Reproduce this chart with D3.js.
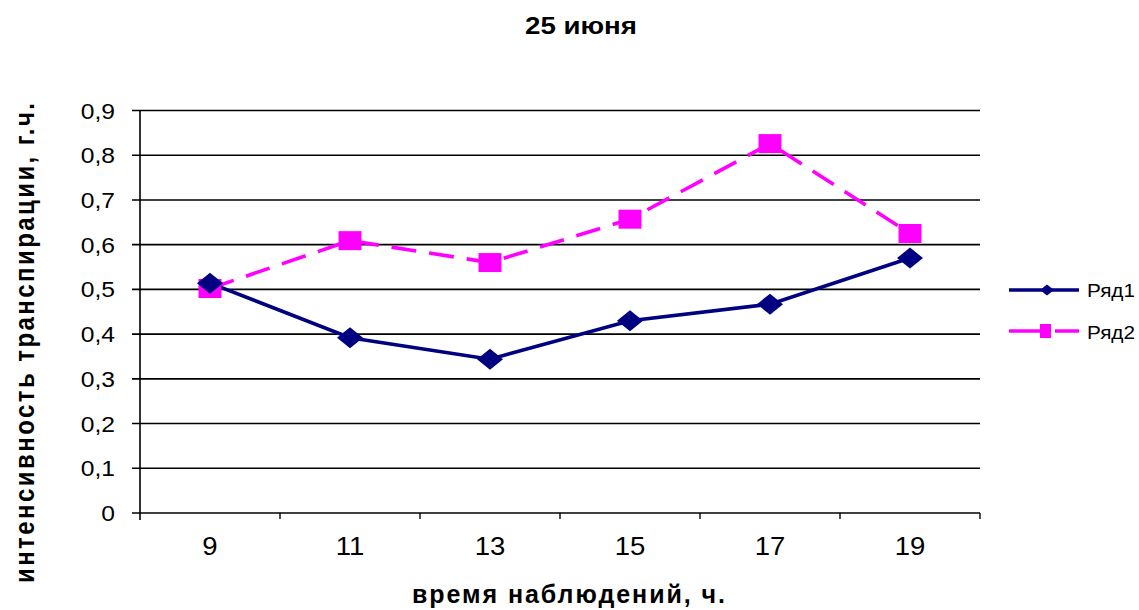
<!DOCTYPE html>
<html>
<head>
<meta charset="utf-8">
<script src="https://cdn.jsdelivr.net/npm/d3@7"></script>
<style>
  body { margin: 0; background: #fff; }
  svg { display: block; font-family: "Liberation Sans", Arial, sans-serif; }
</style>
</head>
<body>
<svg id="chart" width="1139" height="610"></svg>
<script>
// Observation hours and transpiration intensity for two series
const hours = ["9", "11", "13", "15", "17", "19"];
const series1 = [0.514, 0.392, 0.344, 0.430, 0.467, 0.570];
const series2 = [0.502, 0.609, 0.560, 0.657, 0.826, 0.625];
const seriesNames = ["Ряд1", "Ряд2"];
const yTicks = [0, 0.1, 0.2, 0.3, 0.4, 0.5, 0.6, 0.7, 0.8, 0.9];

const svg = d3.select("#chart");
const m = { left: 140, right: 980, top: 110.5, bottom: 513 };

const x = d3.scaleBand().domain(hours).range([m.left, m.right]);
const y = d3.scaleLinear().domain([0, 0.9]).range([m.bottom, m.top]);
const fmt = d => d === 0 ? "0" : d3.format(".1f")(d).replace(".", ",");

// widen glyphs slightly, as the text in this chart is drawn broad
function widen(sel, k) {
  sel.each(function () {
    const w = this.getComputedTextLength();
    d3.select(this).attr("textLength", w * k).attr("lengthAdjust", "spacingAndGlyphs");
  });
  return sel;
}

// horizontal gridlines with small outward tick
svg.append("g").selectAll("line").data(yTicks).join("line")
  .attr("x1", m.left - 8).attr("x2", m.right)
  .attr("y1", d => y(d)).attr("y2", d => y(d))
  .attr("stroke", "#000").attr("stroke-width", 1.6);

// y tick labels
widen(svg.append("g").selectAll("text").data(yTicks).join("text")
  .attr("x", 115).attr("y", d => y(d) + 8)
  .attr("text-anchor", "end").attr("font-size", 22)
  .text(fmt), 1.12);

// y axis line
svg.append("line").attr("x1", m.left).attr("x2", m.left)
  .attr("y1", m.top).attr("y2", m.bottom + 7)
  .attr("stroke", "#000").attr("stroke-width", 1.6);

// x axis ticks between categories
const bounds = hours.map(h => x(h) + x.bandwidth());
svg.append("g").selectAll("line").data(bounds).join("line")
  .attr("x1", d => d).attr("x2", d => d)
  .attr("y1", m.bottom).attr("y2", m.bottom + 6)
  .attr("stroke", "#000").attr("stroke-width", 1.4);

// x tick labels
widen(svg.append("g").selectAll("text").data(hours).join("text")
  .attr("x", d => x(d) + x.bandwidth() / 2).attr("y", 555)
  .attr("text-anchor", "middle").attr("font-size", 25)
  .text(d => d), 1.1);

const cx = h => x(h) + x.bandwidth() / 2;
const line = d3.line().x(d => cx(d.h)).y(d => y(d.v));

const d1 = hours.map((h, i) => ({ h, v: series1[i] }));
const d2 = hours.map((h, i) => ({ h, v: series2[i] }));

// series 2: dashed magenta with squares
svg.append("path").datum(d2).attr("d", line)
  .attr("fill", "none").attr("stroke", "#ff00ff")
  .attr("stroke-width", 3.6).attr("stroke-dasharray", "25,13");

// series 1: solid navy with diamonds
svg.append("path").datum(d1).attr("d", line)
  .attr("fill", "none").attr("stroke", "#000080").attr("stroke-width", 3.6);

svg.append("g").selectAll("rect").data(d2).join("rect")
  .attr("x", d => cx(d.h) - 11.5).attr("y", d => y(d.v) - 9.5)
  .attr("width", 23).attr("height", 19).attr("fill", "#ff00ff");

const diamond = (px, py, rx, ry) => `M${px},${py - ry}L${px + rx},${py}L${px},${py + ry}L${px - rx},${py}Z`;
svg.append("g").selectAll("path").data(d1).join("path")
  .attr("d", d => diamond(cx(d.h), y(d.v), 13, 10.5)).attr("fill", "#000080");

// legend
const lg = svg.append("g");
lg.append("line").attr("x1", 1009).attr("x2", 1079).attr("y1", 290).attr("y2", 290)
  .attr("stroke", "#000080").attr("stroke-width", 3.4);
lg.append("path").attr("d", diamond(1047, 290, 7, 5.5)).attr("fill", "#000080");
lg.append("text").attr("x", 1087).attr("y", 297).attr("font-size", 18)
  .attr("textLength", 48).attr("lengthAdjust", "spacingAndGlyphs").text(seriesNames[0]);

lg.append("line").attr("x1", 1009).attr("x2", 1079).attr("y1", 331).attr("y2", 331)
  .attr("stroke", "#ff00ff").attr("stroke-width", 3.4).attr("stroke-dasharray", "41,5,25");
lg.append("rect").attr("x", 1040).attr("y", 324).attr("width", 11).attr("height", 14).attr("fill", "#ff00ff");
lg.append("text").attr("x", 1087).attr("y", 339).attr("font-size", 18)
  .attr("textLength", 48).attr("lengthAdjust", "spacingAndGlyphs").text(seriesNames[1]);

// titles
svg.append("text").attr("x", 525).attr("y", 34)
  .attr("font-size", 24).attr("font-weight", "bold")
  .attr("textLength", 112).attr("lengthAdjust", "spacingAndGlyphs").text("25 июня");
svg.append("text").attr("x", 412).attr("y", 603)
  .attr("font-size", 25).attr("font-weight", "bold")
  .attr("textLength", 313).attr("lengthAdjust", "spacing")
  .text("время наблюдений, ч.");
svg.append("text").attr("transform", "translate(34,583) scale(1.15,1) rotate(-90)")
  .attr("font-size", 24).attr("font-weight", "bold")
  .attr("textLength", 480).attr("lengthAdjust", "spacing")
  .text("интенсивность транспирации, г.ч.");
</script>
</body>
</html>
